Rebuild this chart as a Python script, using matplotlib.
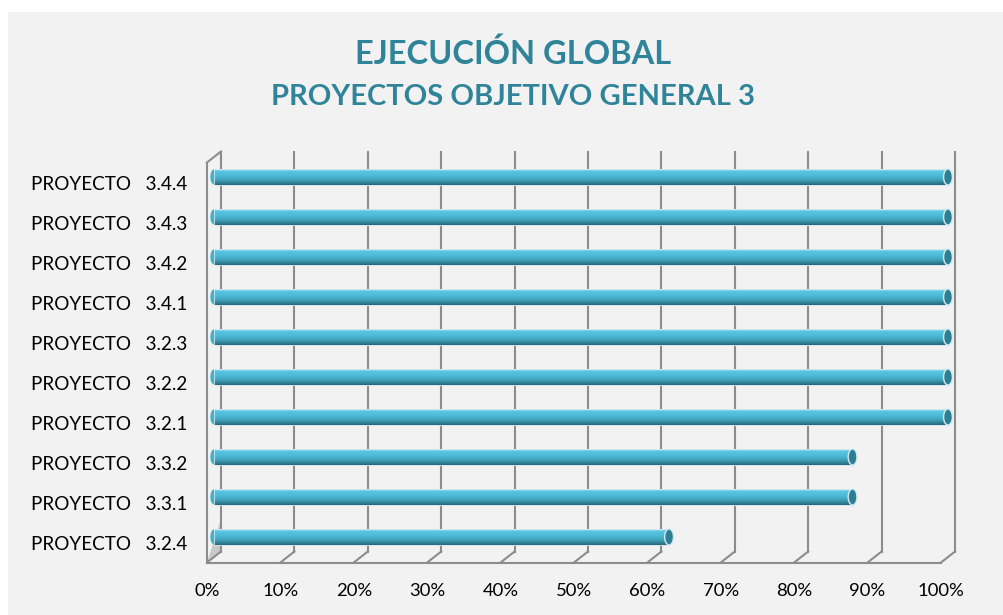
import matplotlib.pyplot as plt
from matplotlib import transforms
from matplotlib.colors import LinearSegmentedColormap
from matplotlib.patches import Ellipse, Rectangle, Polygon

proyectos = ["PROYECTO   3.2.4", "PROYECTO   3.3.1", "PROYECTO   3.3.2",
             "PROYECTO   3.2.1", "PROYECTO   3.2.2", "PROYECTO   3.2.3",
             "PROYECTO   3.4.1", "PROYECTO   3.4.2", "PROYECTO   3.4.3",
             "PROYECTO   3.4.4"]
ejecucion = [62, 87, 87, 100, 100, 100, 100, 100, 100, 100]
ticks = [0, 10, 20, 30, 40, 50, 60, 70, 80, 90, 100]
tick_labels = [f"{t}%" for t in ticks]

TEAL = "#2f8499"
GRID = "#8c8c8c"
plt.rcParams["font.family"] = ["Lato", "DejaVu Sans"]

fig = plt.figure(figsize=(10.04, 6.15), dpi=100)
fig.patches.append(Rectangle((8 / 1004, 0), 1, (615 - 12) / 615, transform=fig.transFigure,
                             facecolor="#f2f2f2", edgecolor="none", zorder=-5))

ax = fig.add_axes([207 / 1004, 52.5 / 615, 734 / 1004, 400 / 615])
ax.set_facecolor("none")
ax.set_xlim(0, 100)
ax.set_ylim(-0.5, len(proyectos) - 0.5)
for s in ax.spines.values():
    s.set_visible(False)

# depth offsets (pixels): back wall and middle (bars)
back = ax.transData + transforms.ScaledTranslation(14 / 100, 11 / 100, fig.dpi_scale_trans)
mid = ax.transData + transforms.ScaledTranslation(7 / 100, 5.5 / 100, fig.dpi_scale_trans)
y0, y1 = -0.5, len(proyectos) - 0.5

# back wall gridlines
for t in ticks:
    ax.plot([t, t], [y0, y1], color=GRID, lw=1.5, transform=back, clip_on=False, zorder=1)
# floor: front line and diagonals
ax.plot([0, 100], [y0, y0], color=GRID, lw=1.5, clip_on=False, zorder=1)
for t in ticks:
    p_front = ax.transData.transform((t, y0))
    p_back = back.transform((t, y0))
    ax.plot([p_front[0], p_back[0]], [p_front[1], p_back[1]], color=GRID, lw=1.5,
            transform=None, clip_on=False, zorder=1)
# left wall
ax.plot([0, 0], [y0, y1], color=GRID, lw=1.5, clip_on=False, zorder=1)
pf = ax.transData.transform((0, y1))
pb = back.transform((0, y1))
ax.plot([pf[0], pb[0]], [pf[1], pb[1]], color=GRID, lw=1.5, transform=None, clip_on=False, zorder=1)
# small shade in left wall corner
c0 = ax.transData.transform((0, y0))
c1 = back.transform((0, y0))
c2 = back.transform((0, y0 + 0.8))
ax.add_patch(Polygon([c0, c1, c2], closed=True, facecolor="#c8c8c8", edgecolor="none",
                     transform=None, zorder=0))

# cylinder bars
cmap = LinearSegmentedColormap.from_list("cyl", [(0, "#a9dcea"), (0.12, "#5ac6e1"),
                                                 (0.45, "#4bb8d4"), (0.75, "#3a98b0"),
                                                 (1.0, "#2a6b7d")])
h = 0.4
n = 16
ypos = list(range(len(proyectos)))
for i, v in zip(ypos, ejecucion):
    ax.add_patch(Ellipse((0, i), 1.0, h * 0.95, facecolor="#45aecb", edgecolor="none",
                         transform=mid, zorder=2, clip_on=False))
for k in range(n):
    off = h / 2 - (k + 0.5) * h / n
    ax.barh([y + off for y in ypos], ejecucion, height=h / n * 1.15, color=cmap(k / (n - 1)),
            linewidth=0, transform=mid, zorder=3, clip_on=False)
ax.barh(ypos, ejecucion, height=h, fill=False, edgecolor="#d6e7ec", linewidth=0.6,
        transform=mid, zorder=4, clip_on=False)
for i, v in zip(ypos, ejecucion):
    ax.add_patch(Ellipse((v, i), 1.2, h, facecolor="#2e7f94", edgecolor="#d3eaf0", lw=1.0,
                         transform=mid, zorder=5, clip_on=False))

ax.set_yticks(ypos, proyectos)
ax.set_xticks(ticks, tick_labels)
ax.tick_params(axis="y", length=0, pad=14, labelsize=13.6, labelcolor="black")
ax.tick_params(axis="x", length=0, pad=15, labelsize=13.3, labelcolor="black")

fig.text(0.511, 0.9127, "EJECUCIÓN GLOBAL", ha="center", va="center", fontsize=23.5,
         fontweight="bold", color=TEAL)
fig.text(0.511, 0.843, "PROYECTOS OBJETIVO GENERAL 3", ha="center", va="center", fontsize=21,
         fontweight="bold", color=TEAL)

fig.savefig("out.png", dpi=100)
